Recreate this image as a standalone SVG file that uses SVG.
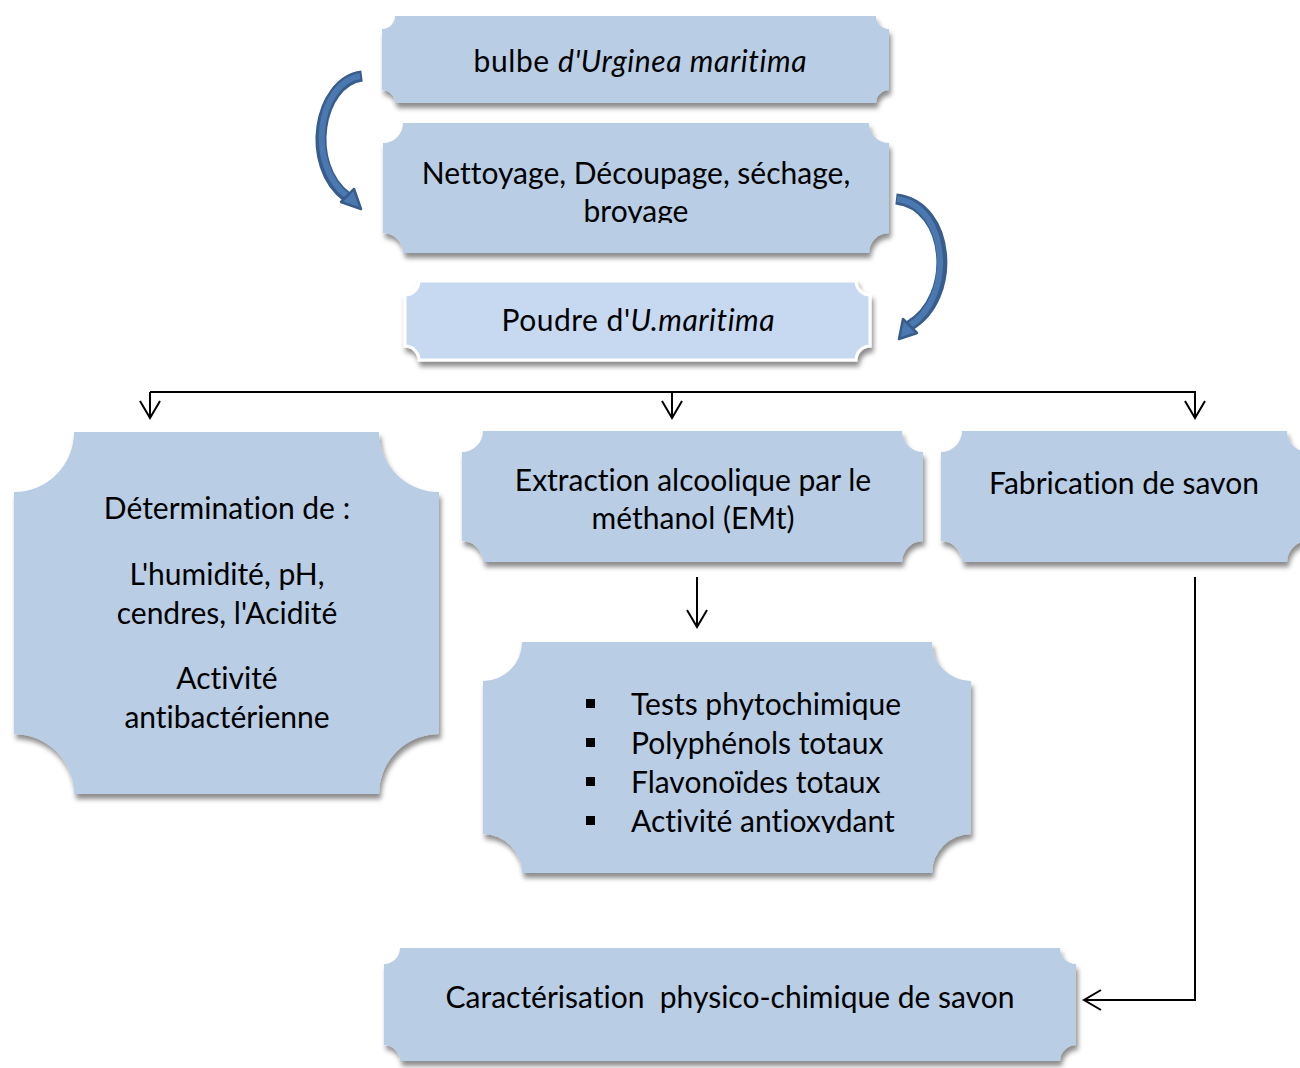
<svg xmlns="http://www.w3.org/2000/svg" width="1300" height="1068" viewBox="0 0 1300 1068">
<style>
  .box { fill: #b9cde5; filter: url(#shadow); }
  .box2 { fill: #c6d9f1; stroke: #ffffff; stroke-width: 3; filter: url(#shadow); }
  .t { font-family: Lato, "Open Sans", sans-serif; font-size: 30px; fill: #000; text-anchor: middle; font-variant-ligatures: none; }
  .tl { font-family: Lato, "Open Sans", sans-serif; font-size: 30px; fill: #000; font-variant-ligatures: none; }
  .it { font-style: italic; }
  .conn { fill: none; stroke: #000; stroke-width: 2; }
  .arcO { fill: none; stroke: #385d8a; stroke-width: 11; stroke-linecap: butt; }
  .arcI { fill: none; stroke: #4a78b0; stroke-width: 6; stroke-linecap: butt; }
  .head { fill: #4a78b0; stroke: #385d8a; stroke-width: 2.5; stroke-linejoin: round; }
</style>
<defs>
  <filter id="shadow" x="-10%" y="-10%" width="125%" height="130%">
    <feDropShadow dx="2" dy="5" stdDeviation="2.5" flood-color="#000" flood-opacity="0.45"/>
  </filter>
  <marker id="open" viewBox="0 0 20 22" refX="18" refY="11" markerWidth="20" markerHeight="22" markerUnits="userSpaceOnUse" orient="auto">
    <path d="M1,1 L18,11 L1,21" fill="none" stroke="#000" stroke-width="2"/>
  </marker>
  <clipPath id="clipBroyage"><rect x="380" y="120" width="520" height="103"/></clipPath>
  <clipPath id="clipAnti"><rect x="480" y="640" width="500" height="193"/></clipPath>
</defs>
<rect width="1300" height="1068" fill="#ffffff"/>

<g id="node-bulbe">
  <path class="box" d="M395,16 H876 A13,13 0 0 0 889,29 V90 A13,13 0 0 0 876,103 H395 A13,13 0 0 0 382,90 V29 A13,13 0 0 0 395,16 Z"/>
  <text class="t" x="640" y="72" textLength="333">bulbe <tspan class="it">d'Urginea maritima</tspan></text>
</g>

<g id="node-nettoyage">
  <path class="box" d="M403,123 H869 A20,20 0 0 0 889,143 V233 A20,20 0 0 0 869,253 H403 A20,20 0 0 0 383,233 V143 A20,20 0 0 0 403,123 Z"/>
  <g clip-path="url(#clipBroyage)">
    <text class="t" x="636" y="184">Nettoyage, Découpage, séchage,</text>
    <text class="t" x="636" y="222">broyage</text>
  </g>
</g>

<g id="node-poudre">
  <path class="box2" d="M419,281 H856 A14,14 0 0 0 870,295 V346 A14,14 0 0 0 856,360 H419 A14,14 0 0 0 405,346 V295 A14,14 0 0 0 419,281 Z"/>
  <text class="t" x="638" y="331" textLength="273">Poudre d'<tspan class="it">U.maritima</tspan></text>
</g>

<g id="node-determination">
  <path class="box" d="M74,432 H379 A60,60 0 0 0 439,492 V734 A60,60 0 0 0 379,794 H74 A60,60 0 0 0 14,734 V492 A60,60 0 0 0 74,432 Z"/>
  <text class="t" x="227" y="519">Détermination de :</text>
  <text class="t" x="227" y="585">L'humidité, pH,</text>
  <text class="t" x="227" y="624">cendres, l'Acidité</text>
  <text class="t" x="227" y="689">Activité</text>
  <text class="t" x="227" y="728">antibactérienne</text>
</g>

<g id="node-extraction">
  <path class="box" d="M483,431 H902 A21,21 0 0 0 923,452 V541 A21,21 0 0 0 902,562 H483 A21,21 0 0 0 462,541 V452 A21,21 0 0 0 483,431 Z"/>
  <text class="t" x="693" y="491">Extraction alcoolique par le</text>
  <text class="t" x="693" y="529">méthanol (EMt)</text>
</g>

<g id="node-fabrication">
  <path class="box" d="M962,431 H1287 A21,21 0 0 0 1308,452 V541 A21,21 0 0 0 1287,562 H962 A21,21 0 0 0 941,541 V452 A21,21 0 0 0 962,431 Z"/>
  <text class="t" x="1124" y="494">Fabrication de savon</text>
</g>

<g id="node-tests">
  <path class="box" d="M522,642 H932 A39,39 0 0 0 971,681 V834 A39,39 0 0 0 932,873 H522 A39,39 0 0 0 483,834 V681 A39,39 0 0 0 522,642 Z"/>
  <g clip-path="url(#clipAnti)">
    <rect x="586" y="699" width="9" height="9" fill="#000"/>
    <rect x="586" y="738" width="9" height="9" fill="#000"/>
    <rect x="586" y="777" width="9" height="9" fill="#000"/>
    <rect x="586" y="816" width="9" height="9" fill="#000"/>
    <text class="tl" x="631" y="715">Tests phytochimique</text>
    <text class="tl" x="631" y="754">Polyphénols totaux</text>
    <text class="tl" x="631" y="793">Flavonoïdes totaux</text>
    <text class="tl" x="631" y="832">Activité antioxydant</text>
  </g>
</g>

<g id="node-caracterisation">
  <path class="box" d="M400,948 H1060 A16,16 0 0 0 1076,964 V1045 A16,16 0 0 0 1060,1061 H400 A16,16 0 0 0 384,1045 V964 A16,16 0 0 0 400,948 Z"/>
  <text class="t" x="730" y="1008" xml:space="preserve">Caractérisation  physico-chimique de savon</text>
</g>

<g id="connectors">
  <path class="conn" d="M150,392 V418" marker-end="url(#open)"/>
  <path class="conn" d="M150,392 H1195 V418" marker-end="url(#open)"/>
  <path class="conn" d="M672,392 V418" marker-end="url(#open)"/>
  <path class="conn" d="M697,577 V627" marker-end="url(#open)"/>
  <path class="conn" d="M1195,577 V1000 H1084" marker-end="url(#open)"/>

  <path class="arcO" d="M362,76 C318,82 304,165 347,197"/>
  <path class="arcI" d="M360,76 C318,83 306,164 347,196"/>
  <polygon class="head" points="361,209 354,189 341,202"/>

  <path class="arcO" d="M896,199 C951,205 958,298 909,326"/>
  <path class="arcI" d="M897,199 C949,206 955,298 909,326"/>
  <polygon class="head" points="899,339 917,333 903,319"/>
</g>
</svg>
